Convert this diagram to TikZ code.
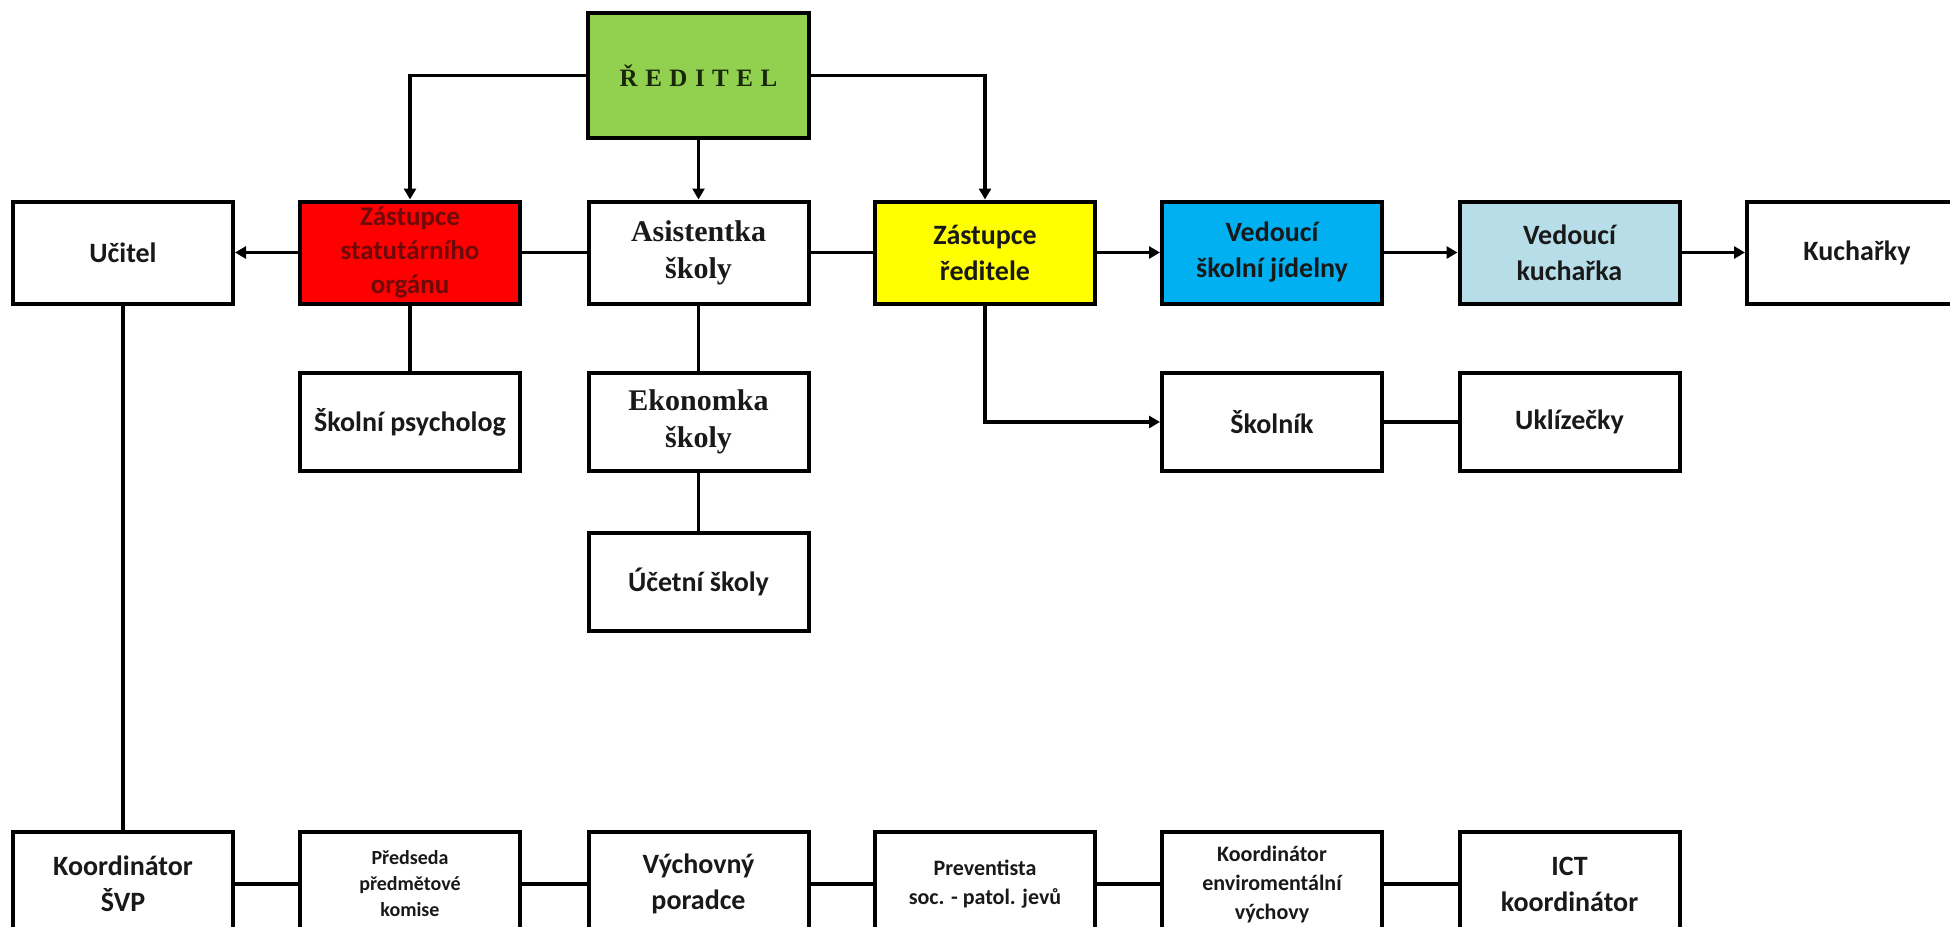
\documentclass[tikz,border=0pt]{standalone}
\usepackage{fontspec}
\setmainfont{Carlito}
\newfontfamily\serifb{Liberation Serif}
\usetikzlibrary{arrows.meta}
\definecolor{cgreen}{RGB}{146,208,80}
\definecolor{cred}{RGB}{255,0,0}
\definecolor{credtext}{RGB}{110,10,10}
\definecolor{cyellow}{RGB}{255,255,0}
\definecolor{cblue}{RGB}{0,176,240}
\definecolor{clblue}{RGB}{183,221,232}
\definecolor{ctext}{RGB}{25,25,25}
\definecolor{cgtext}{RGB}{25,40,10}
\newcommand{\rk}{\kern7.5pt}
\tikzset{
  box/.style={draw=black, line width=4pt, fill=white, minimum width=220pt,
    minimum height=102pt, inner sep=2pt, align=center, text=ctext,
    font=\fontsize{28}{36}\selectfont\bfseries},
  serifbox/.style={font=\serifb\fontsize{30}{37}\selectfont\bfseries},
  smallbox/.style={font=\fontsize{20}{26}\selectfont\bfseries},
  midbox/.style={font=\fontsize{22}{29}\selectfont\bfseries},
  conn/.style={line width=3.5pt},
  arr/.style={line width=3.5pt, -{Triangle[length=11pt,width=12pt]}}
}
\begin{document}
\begin{tikzpicture}[x=1pt,y=-1pt]
\useasboundingbox (0,0) rectangle (1950,926);
\clip (0,0) rectangle (1950,926);
% top
\node[box, fill=cgreen, minimum width=221pt, minimum height=125pt, text=cgtext,
  font=\serifb\fontsize{25}{30}\selectfont\bfseries] (red) at (698.5,75.5)
  {Ř\rk E\rk D\rk I\rk T\rk E\rk L};
% row 1
\node[box] (uc) at (123,252.5) {Učitel};
\node[box, fill=cred, text=credtext, font=\fontsize{27}{34}\selectfont\bfseries] (zs) at (410,252.5) {Zástupce\\statutárního\\orgánu};
\node[box, serifbox] (as) at (698.5,252.5) {Asistentka\\školy};
\node[box, fill=cyellow] (zr) at (985,252.5) {Zástupce\\ředitele};
\node[box, fill=cblue] (vsj) at (1272,252.5) {Vedoucí\\školní jídelny};
\node[box, fill=clblue] (vk) at (1569.5,252.5) {Vedoucí\\kuchařka};
\node[box] (ku) at (1857,252.5) {Kuchařky};
% row 2
\node[box, minimum height=98pt] (ps) at (410,422) {Školní psycholog};
\node[box, serifbox, minimum height=98pt] (ek) at (698.5,422) {Ekonomka\\školy};
\node[box, minimum height=98pt] (sk) at (1272,422) {Školník};
\node[box, minimum height=98pt] (uk) at (1569.5,422) {Uklízečky};
% row 3
\node[box, minimum height=98pt] (ut) at (698.5,582) {Účetní školy};
% bottom row
\node[box, minimum height=104pt] (ksvp) at (123,884) {Koordinátor\\ŠVP};
\node[box, smallbox, minimum height=104pt] (pk) at (410,884) {Předseda\\předmětové\\komise};
\node[box, minimum height=104pt] (vp) at (698.5,884) {Výchovný\\poradce};
\node[box, midbox, minimum height=104pt] (pv) at (985,884) {Preventista\\soc. - patol. jevů};
\node[box, midbox, minimum height=104pt] (ke) at (1272,884) {Koordinátor\\enviromentální\\výchovy};
\node[box, minimum height=104pt] (ict) at (1569.5,884) {ICT\\koordinátor};
% connectors
\draw[arr] (red.west) -| (zs.north);
\draw[arr] (red.east) -| (zr.north);
\draw[arr] (red.south) -- (as.north);
\draw[arr] (zs.west) -- (uc.east);
\draw[conn] (zs.east) -- (as.west);
\draw[conn] (as.east) -- (zr.west);
\draw[arr] (zr.east) -- (vsj.west);
\draw[arr] (vsj.east) -- (vk.west);
\draw[arr] (vk.east) -- (ku.west);
\draw[conn] (zs.south) -- (ps.north);
\draw[conn] (as.south) -- (ek.north);
\draw[conn] (ek.south) -- (ut.north);
\draw[arr] (zr.south) |- (sk.west);
\draw[conn] (sk.east) -- (uk.west);
\draw[conn] (uc.south) -- (ksvp.north);
\draw[conn] (ksvp.east) -- (pk.west);
\draw[conn] (pk.east) -- (vp.west);
\draw[conn] (vp.east) -- (pv.west);
\draw[conn] (pv.east) -- (ke.west);
\draw[conn] (ke.east) -- (ict.west);
\end{tikzpicture}
\end{document}
